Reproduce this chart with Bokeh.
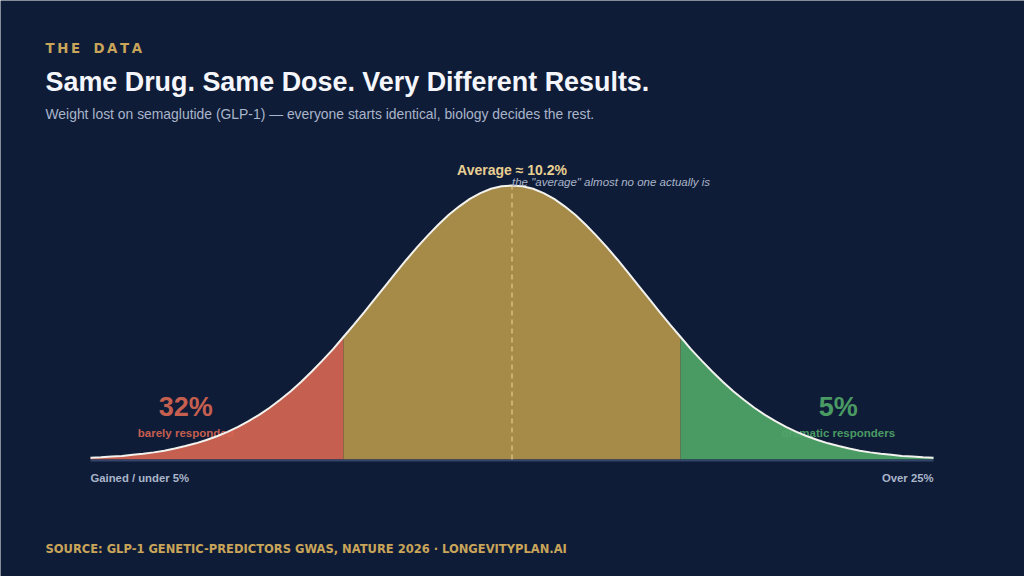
from bokeh.plotting import figure
from bokeh.models import Label, Range1d
from bokeh.core.properties import value
from bokeh.embed import file_html
from bokeh.resources import INLINE

# ---- data ----
# position along the response axis (0 = gained / under 5%, 100 = over 25%)
pos = [0, 1.25, 2.5, 3.75, 5, 6.25, 7.5, 8.75, 10, 11.25, 12.5, 13.75, 15, 16.25,
       17.5, 18.75, 20, 21.25, 22.5, 23.75, 25, 26.25, 27.5, 28.75, 30, 31.25,
       32.5, 33.75, 35, 36.25, 37.5, 38.75, 40, 41.25, 42.5, 43.75, 45, 46.25,
       47.5, 48.75, 50, 51.25, 52.5, 53.75, 55, 56.25, 57.5, 58.75, 60, 61.25,
       62.5, 63.75, 65, 66.25, 67.5, 68.75, 70, 71.25, 72.5, 73.75, 75, 76.25,
       77.5, 78.75, 80, 81.25, 82.5, 83.75, 85, 86.25, 87.5, 88.75, 90, 91.25,
       92.5, 93.75, 95, 96.25, 97.5, 98.75, 100]
density = [0.006, 0.008, 0.011, 0.013, 0.017, 0.021, 0.026, 0.032, 0.040, 0.049,
           0.059, 0.071, 0.085, 0.101, 0.119, 0.140, 0.163, 0.189, 0.218, 0.249,
           0.284, 0.321, 0.361, 0.402, 0.447, 0.492, 0.539, 0.587, 0.635, 0.683,
           0.730, 0.775, 0.817, 0.857, 0.893, 0.924, 0.951, 0.972, 0.988, 0.997,
           1.0, 0.997, 0.988, 0.972, 0.951, 0.924, 0.893, 0.857, 0.817, 0.775,
           0.730, 0.683, 0.635, 0.587, 0.539, 0.492, 0.447, 0.402, 0.361, 0.321,
           0.284, 0.249, 0.218, 0.189, 0.163, 0.140, 0.119, 0.101, 0.085, 0.071,
           0.059, 0.049, 0.040, 0.032, 0.026, 0.021, 0.017, 0.013, 0.011, 0.008, 0.006]
low_cut = 30      # end of "barely responded" band
high_cut = 70     # start of "dramatic responders" band
mean_pos = 50
mean_label = "Average ≈ 10.2%"
tail_pcts = ["32%", "5%"]
tail_names = ["barely responded", "dramatic responders"]
axis_ends = ["Gained / under 5%", "Over 25%"]

BG = "#0f1c37"
RED = "#d56551"
GOLD = "#b3944a"
GREEN = "#4fa568"
RED_T = "#c55f4f"
GREEN_T = "#4a9a64"
ACCENT = "#c9a55a"
MUTED = "#a9b5ca"
FONT = "Liberation Sans"

W, H = 1024, 576
px_per_x = 8.43
x0_px = 90
base_px = 459
px_per_y = 274

p = figure(width=W, height=H, output_backend="svg", toolbar_location=None,
           x_range=Range1d(-x0_px / px_per_x, (W - x0_px) / px_per_x),
           y_range=Range1d(-(H - base_px) / px_per_y, base_px / px_per_y),
           min_border=0, background_fill_color=BG, border_fill_color=BG,
           outline_line_color=None)
p.axis.visible = False
p.grid.visible = False

def band(a, b):
    xs = [x for x in pos if a <= x <= b]
    ys = [density[pos.index(x)] for x in xs]
    return xs, ys

# tail texts drawn under the fills
tail_x = [11.3, 88.7]
p.text(x=tail_x, y=[0.193, 0.193], text=tail_pcts, text_color=[RED_T, GREEN_T],
       text_font=value(FONT), text_font_style="bold", text_font_size="27px",
       text_align="center", text_baseline="middle")
p.text(x=tail_x, y=[0.098, 0.098], text=tail_names, text_color=[RED_T, GREEN_T],
       text_font=value(FONT), text_font_style="bold", text_font_size="11.5px",
       text_align="center", text_baseline="middle")

for (a, b), col in [((pos[0], low_cut), RED), ((low_cut, high_cut), GOLD), ((high_cut, pos[-1]), GREEN)]:
    xs, ys = band(a, b)
    p.varea(x=xs, y1=[0] * len(xs), y2=ys, fill_color=col, fill_alpha=0.92)

# baseline
p.line(x=[pos[0], pos[-1]], y=[-0.004, -0.004], line_color="#33446a", line_width=2)
# curve
p.line(x=pos, y=density, line_color="#f2f2ee", line_width=2)
# mean line
p.segment(x0=[mean_pos], y0=[0], x1=[mean_pos], y1=[max(density)],
          line_color="#e3c98f", line_alpha=0.8, line_width=1.5, line_dash="5 4")

p.text(x=[mean_pos], y=[1.055], text=[mean_label], text_color="#e8cf93",
       text_font=value(FONT), text_font_style="bold", text_font_size="14px",
       text_align="center", text_baseline="middle")
p.text(x=[mean_pos], y=[1.011], text=['the "average" almost no one actually is'],
       text_color=MUTED, text_font=value(FONT), text_font_style="italic",
       text_font_size="11.5px", text_align="left", text_baseline="middle")

p.text(x=[pos[0], pos[-1]], y=[-0.069, -0.069], text=axis_ends, text_color=MUTED,
       text_font=value(FONT), text_font_style="bold", text_font_size="11.3px",
       text_align=["left", "right"], text_baseline="middle")

def lab(text, x, y_img, size, color, style="normal", font=FONT):
    p.add_layout(Label(x=x, y=H - y_img, x_units="screen", y_units="screen", text=text,
                       text_color=color, text_font=font, text_font_size=size,
                       text_font_style=style, text_baseline="middle", text_align="left"))

lab("T\u2009H\u2009E\u2003D\u2009A\u2009T\u2009A", 45, 48, "13.3px", ACCENT, "bold", "DejaVu Sans")
lab("Same Drug. Same Dose. Very Different Results.", 45, 81, "26.9px", "#f4f6fb", "bold")
lab("Weight lost on semaglutide (GLP-1) — everyone starts identical, biology decides the rest.",
    45, 113, "13.9px", MUTED)
lab("SOURCE: GLP-1 GENETIC-PREDICTORS GWAS, NATURE 2026 · LONGEVITYPLAN.AI",
    45, 548, "11.5px", ACCENT, "bold", "DejaVu Sans")

open("out.html", "w").write(file_html(p, INLINE))
